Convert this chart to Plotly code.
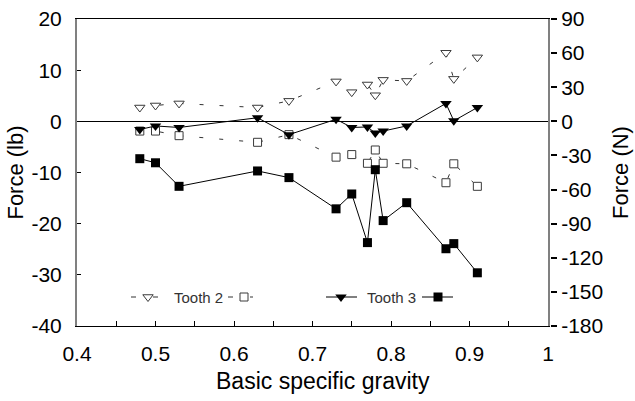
import plotly.graph_objects as go

# ---- data ----
sg = [0.48, 0.50, 0.53, 0.63, 0.67, 0.73, 0.75, 0.77, 0.78, 0.79, 0.82, 0.87, 0.88, 0.91]
tooth2_tri = [2.7, 3.1, 3.5, 2.7, 4.0, 7.8, 5.7, 7.2, 5.1, 8.1, 7.9, 13.4, 8.3, 12.5]
tooth2_sq = [-1.9, -1.9, -2.8, -4.1, -2.6, -7.0, -6.5, -8.2, -5.6, -8.2, -8.3, -12.0, -8.3, -12.7]
tooth3_tri = [-1.6, -0.9, -1.2, 0.7, -2.6, 0.4, -1.2, -1.1, -2.3, -1.9, -0.9, 3.5, 0.1, 2.7]
tooth3_sq = [-7.3, -8.1, -12.7, -9.7, -11.0, -17.1, -14.2, -23.7, -9.45, -19.4, -15.9, -24.9, -23.9, -29.6]

legend_labels = ["Tooth 2", "Tooth 3"]
x_ticks = [0.4, 0.5, 0.6, 0.7, 0.8, 0.9, 1.0]
x_ticktext = ["0.4", "0.5", "0.6", "0.7", "0.8", "0.9", "1"]
lb_ticks = [20, 10, 0, -10, -20, -30, -40]
n_ticks = [90, 60, 30, 0, -30, -60, -90, -120, -150, -180]
x_title = "Basic specific gravity"

FONT = "Arial, Liberation Sans, sans-serif"
W, H = 635, 401
L, T, B = 77, 19, 75
R_TICK = 550          # where the right-axis ticks start
R_BOX = 548           # right edge of the plot box
XDOM = (R_BOX - L) / (R_TICK - L)
PW, PH = R_TICK - L, H - B - T

fig = go.Figure()

open_marker_line = dict(color="#3a3a3a", width=1)
dash2 = "4px,16px"

fig.add_trace(go.Scatter(
    x=sg, y=tooth2_tri, mode="lines+markers",
    line=dict(color="#333333", width=1, dash=dash2),
    marker=dict(symbol="triangle-down", size=9, color="white", line=open_marker_line),
    showlegend=False))
fig.add_trace(go.Scatter(
    x=sg, y=tooth2_sq, mode="lines+markers",
    line=dict(color="#333333", width=1, dash=dash2),
    marker=dict(symbol="square", size=8, color="white", line=open_marker_line),
    showlegend=False))
fig.add_trace(go.Scatter(
    x=sg, y=tooth3_sq, mode="lines+markers",
    line=dict(color="black", width=1),
    marker=dict(symbol="square", size=9, color="black", line=dict(color="black", width=0)),
    showlegend=False))
fig.add_trace(go.Scatter(
    x=sg, y=tooth3_tri, mode="lines+markers",
    line=dict(color="black", width=1),
    marker=dict(symbol="triangle-down", size=10, color="black", line=dict(color="black", width=0)),
    showlegend=False))

# dummy trace to activate the right axis
fig.add_trace(go.Scatter(x=[None], y=[None], yaxis="y2", showlegend=False, hoverinfo="skip"))

# ---- hand-drawn legend on an overlay axis in pixel units ----
def leg_trace(x0, x1, xm, symbol, filled, dashed, size):
    fig.add_trace(go.Scatter(
        x=[x0, x1], y=[297, 297], xaxis="x3", yaxis="y3", mode="lines",
        line=dict(color="#333333" if dashed else "black", width=1,
                  dash="5px,17px" if dashed else "solid"),
        showlegend=False, hoverinfo="skip"))
    fig.add_trace(go.Scatter(
        x=[xm], y=[297], xaxis="x3", yaxis="y3", mode="markers",
        marker=dict(symbol=symbol, size=size,
                    color="black" if filled else "white",
                    line=dict(color="#3a3a3a" if not filled else "black", width=1 if not filled else 0)),
        showlegend=False, hoverinfo="skip"))

leg_trace(131, 158, 148, "triangle-down", False, True, 9)
leg_trace(228, 253, 244, "square", False, True, 8)
leg_trace(326, 357, 341, "triangle-down", True, False, 10)
leg_trace(422, 453, 438, "square", True, False, 9)

fig.add_annotation(x=172, y=297, xref="x3", yref="y3", text=legend_labels[0],
                   showarrow=False, xanchor="left", yanchor="middle",
                   font=dict(family=FONT, size=15, color="#333333"))
fig.add_annotation(x=365, y=297, xref="x3", yref="y3", text=legend_labels[1],
                   showarrow=False, xanchor="left", yanchor="middle",
                   font=dict(family=FONT, size=15, color="#333333"))

tickfont = dict(family=FONT, size=21, color="black")
titlefont = dict(family=FONT, size=22, color="black")

# x-axis title (slightly right of centre, as in the reference)
fig.add_annotation(x=(323 - L) / PW, y=(H - B - 381) / PH, xref="paper", yref="paper",
                   text=x_title, showarrow=False, xanchor="center", yanchor="middle",
                   font=dict(family=FONT, size=23, color="black"))

fig.update_layout(
    width=W, height=H,
    margin=dict(l=L, r=W - R_TICK, t=T, b=B, pad=0, autoexpand=False),
    paper_bgcolor="white", plot_bgcolor="white",
    xaxis=dict(
        domain=[0, XDOM], range=[0.4, 1.0], tickvals=x_ticks, ticktext=x_ticktext,
        ticks="inside", ticklen=5, tickcolor="black", tickwidth=1,
        minor=dict(dtick=0.05, ticks="inside", ticklen=5, tickcolor="black", tickwidth=1, showgrid=False),
        showline=True, linecolor="black", linewidth=1, mirror=True,
        showgrid=False, zeroline=False, tickfont=tickfont, automargin=False,
        ticklabelstandoff=9),
    yaxis=dict(
        range=[-40, 20], tickvals=lb_ticks, ticktext=[str(v) for v in lb_ticks],
        ticks="inside", ticklen=4, tickcolor="black", tickwidth=1,
        showline=True, linecolor="#808080", linewidth=2, mirror=True,
        showgrid=False, zeroline=True, zerolinecolor="black", zerolinewidth=1,
        tickfont=tickfont, ticklabelstandoff=9, automargin=False,
        title=dict(text="Force (lb)", font=titlefont, standoff=2)),
    yaxis2=dict(
        range=[-180, 90], tickvals=n_ticks, ticktext=[str(v) for v in n_ticks],
        overlaying="y", side="right", anchor="free", position=1.0,
        ticks="outside", ticklen=6, tickwidth=2, tickcolor="black",
        showline=False, showgrid=False, zeroline=False, tickfont=tickfont,
        ticklabelstandoff=0, automargin=False,
        title=dict(text="Force (N)", font=titlefont, standoff=10)),
    xaxis3=dict(domain=[0, XDOM], range=[L, R_BOX], visible=False, overlaying="x"),
    yaxis3=dict(range=[H - B, T], visible=False, overlaying="y", anchor="x3"),
)

fig.write_html("out.html")
